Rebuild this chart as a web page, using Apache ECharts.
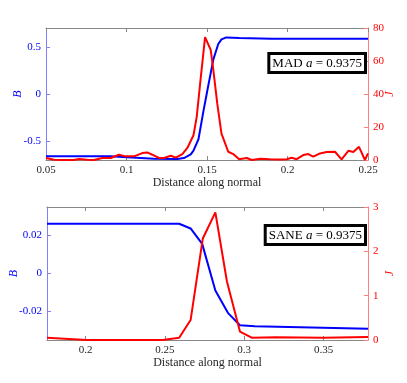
<!DOCTYPE html>
<html>
<head>
<meta charset="utf-8">
<script src="https://cdn.jsdelivr.net/npm/echarts@6/dist/echarts.min.js"></script>
<style>
  html, body { margin: 0; padding: 0; background: #fff; }
  #chart { width: 407px; height: 383px; }
</style>
</head>
<body>
<div id="chart"></div>
<script>
// MAD a = 0.9375 (top panel)
const madBDist = [0.05, 0.09, 0.1005, 0.1171, 0.1316, 0.1357, 0.1399, 0.1416, 0.1447, 0.1477,
    0.1508, 0.154, 0.157, 0.159, 0.162, 0.17, 0.19, 0.25];
const madB = [-0.66, -0.66, -0.67, -0.687, -0.69, -0.68, -0.64, -0.6, -0.48, -0.19,
    0.09, 0.37, 0.53, 0.58, 0.6, 0.595, 0.585, 0.585];

const madJDist = [0.05, 0.055, 0.0612, 0.0674, 0.0705, 0.0757, 0.0798, 0.085, 0.0902, 0.0953,
    0.0995, 0.1047, 0.1098, 0.1129, 0.116, 0.1202, 0.1233, 0.1275, 0.1306, 0.1347,
    0.1378, 0.1416, 0.1436, 0.1457, 0.1488, 0.1523, 0.154, 0.1564, 0.159, 0.1632,
    0.1663, 0.170, 0.1747, 0.1778, 0.183, 0.189, 0.1953, 0.1995, 0.2026, 0.2057,
    0.2098, 0.2129, 0.216, 0.2202, 0.2243, 0.2295, 0.2336, 0.2378, 0.2409, 0.2444,
    0.2481, 0.25];
const madJ = [1.2, 0.2, 0, 0, 0.6, 0.2, 0, 1.2, 1.2, 3.2,
    2.2, 2.2, 4.2, 4.6, 3.2, 1.2, 1.2, 2.6, 1.4, 3.6,
    7.3, 15, 26, 46, 74.5, 66.7, 54, 34, 16, 5,
    3.6, 0.4, 1.2, 0, 0.8, 0.4, 0.3, 0.5, 1.4, 0.5,
    3, 3.6, 2, 4, 4.8, 5, 0.4, 5.6, 4.8, 8,
    0, 4];

// SANE a = 0.9375 (bottom panel)
const saneBDist = [0.1757, 0.259, 0.2662, 0.2735, 0.2818, 0.2897, 0.2973, 0.3067, 0.378];
const saneB = [0.0262, 0.0262, 0.0237, 0.0156, -0.0089, -0.0207, -0.0272, -0.0277, -0.0291];

const saneJDist = [0.1757, 0.2008, 0.2486, 0.259, 0.2662, 0.2739, 0.2818, 0.2891, 0.2973, 0.305,
    0.32, 0.35, 0.378];
const saneJ = [0.05, 0, 0, 0.05, 0.45, 2.29, 2.88, 1.32, 0.19, 0.05,
    0.06, 0.05, 0.07];

const madXTicks = [0.05, 0.1, 0.15, 0.2, 0.25];
const madBTicks = [-0.5, 0, 0.5];
const saneXTicks = [0.2, 0.25, 0.3, 0.35];
const saneBTicks = [-0.02, 0, 0.02];

function pairs(xs, ys) {
    return xs.map((x, i) => [x, ys[i]]);
}

const FONT = 'Liberation Serif';
const BLUE = '#0000ff';
const RED = '#ff0000';
const GRAY = '#262626';

function xAxes(gridIndex, min, max, ticks) {
    return [
        {
            type: 'value', gridIndex: gridIndex, position: 'bottom', min: min, max: max,
            name: 'Distance along normal', nameLocation: 'middle', nameGap: 17, nameMoveOverlap: false,
            nameTextStyle: {color: GRAY, fontFamily: FONT, fontSize: 12},
            axisLine: {onZero: false, lineStyle: {color: '#888', width: 1}},
            axisTick: {inside: true, length: 4, customValues: ticks, lineStyle: {color: '#888'}},
            axisLabel: {customValues: ticks, color: GRAY, fontFamily: FONT, fontSize: 11, margin: 5,
                formatter: v => String(+v.toFixed(3))},
            splitLine: {show: false}
        },
        {
            type: 'value', gridIndex: gridIndex, position: 'top', min: min, max: max,
            axisLine: {onZero: false, lineStyle: {color: '#888', width: 1}},
            axisTick: {inside: true, length: 4, customValues: ticks, lineStyle: {color: '#888'}},
            axisLabel: {show: false},
            splitLine: {show: false}
        }
    ];
}

function yAxes(gridIndex, bMin, bMax, bTicks, jMax, nameGapB) {
    return [
        {
            type: 'value', gridIndex: gridIndex, position: 'left', min: bMin, max: bMax,
            name: 'B', nameLocation: 'middle', nameGap: nameGapB, nameMoveOverlap: false,
            nameTextStyle: {color: BLUE, fontFamily: FONT, fontSize: 12, fontStyle: 'italic'},
            axisLine: {show: true, onZero: false, lineStyle: {color: '#8080ff', width: 1}},
            axisTick: {show: true, inside: true, length: 4, customValues: bTicks, lineStyle: {color: '#8080ff'}},
            axisLabel: {customValues: bTicks, color: BLUE, fontFamily: FONT, fontSize: 11, margin: 5,
                formatter: v => String(+v.toFixed(3))},
            splitLine: {show: false}
        },
        {
            type: 'value', gridIndex: gridIndex, position: 'right', min: 0, max: jMax,
            interval: jMax > 10 ? 20 : 1,
            name: 'J', nameLocation: 'middle', nameGap: 16, nameMoveOverlap: false,
            nameTextStyle: {color: RED, fontFamily: FONT, fontSize: 12, fontStyle: 'italic'},
            axisLine: {show: true, onZero: false, lineStyle: {color: '#ff8080', width: 1}},
            axisTick: {show: true, inside: true, length: 4, lineStyle: {color: '#ff8080'}},
            axisLabel: {color: RED, fontFamily: FONT, fontSize: 11, margin: 5},
            splitLine: {show: false}
        }
    ];
}

function boxLabel(name, top) {
    return {
        type: 'text', right: 40, top: top,
        style: {
            text: '{r|' + name + ' }{i|a}{r| = 0.9375}',
            fill: '#000',
            backgroundColor: '#fff',
            borderColor: '#000',
            borderWidth: 3,
            padding: [2, 2, 1, 2],
            rich: {
                r: {fontFamily: FONT, fontSize: 13, fill: '#000'},
                i: {fontFamily: FONT, fontSize: 13, fontStyle: 'italic', fill: '#000'}
            }
        },
        z: 100
    };
}

const line = (name, x, y, data, color) => ({
    name: name, type: 'line', xAxisIndex: x, yAxisIndex: y, data: data,
    showSymbol: false, symbol: 'none', lineStyle: {color: color, width: 2}, itemStyle: {color: color},
    clip: true
});

const chart = echarts.init(document.getElementById('chart'));
chart.setOption({
    animation: false,
    backgroundColor: '#fff',
    grid: [
        {left: 46, right: 39, top: 28, height: 132},
        {left: 43, right: 39, top: 207, height: 133}
    ],
    xAxis: [
        ...xAxes(0, 0.05, 0.25, madXTicks),
        ...xAxes(1, 0.1757, 0.378, saneXTicks)
    ],
    yAxis: [
        ...yAxes(0, -0.7, 0.7, madBTicks, 80, 22),
        ...yAxes(1, -0.035, 0.035, saneBTicks, 3, 27)
    ],
    series: [
        line('B MAD', 0, 0, pairs(madBDist, madB), BLUE),
        line('J MAD', 0, 1, pairs(madJDist, madJ), RED),
        line('B SANE', 2, 2, pairs(saneBDist, saneB), BLUE),
        line('J SANE', 2, 3, pairs(saneJDist, saneJ), RED)
    ],
    graphic: [
        boxLabel('MAD', 52),
        boxLabel('SANE', 224)
    ]
});
</script>
</body>
</html>
